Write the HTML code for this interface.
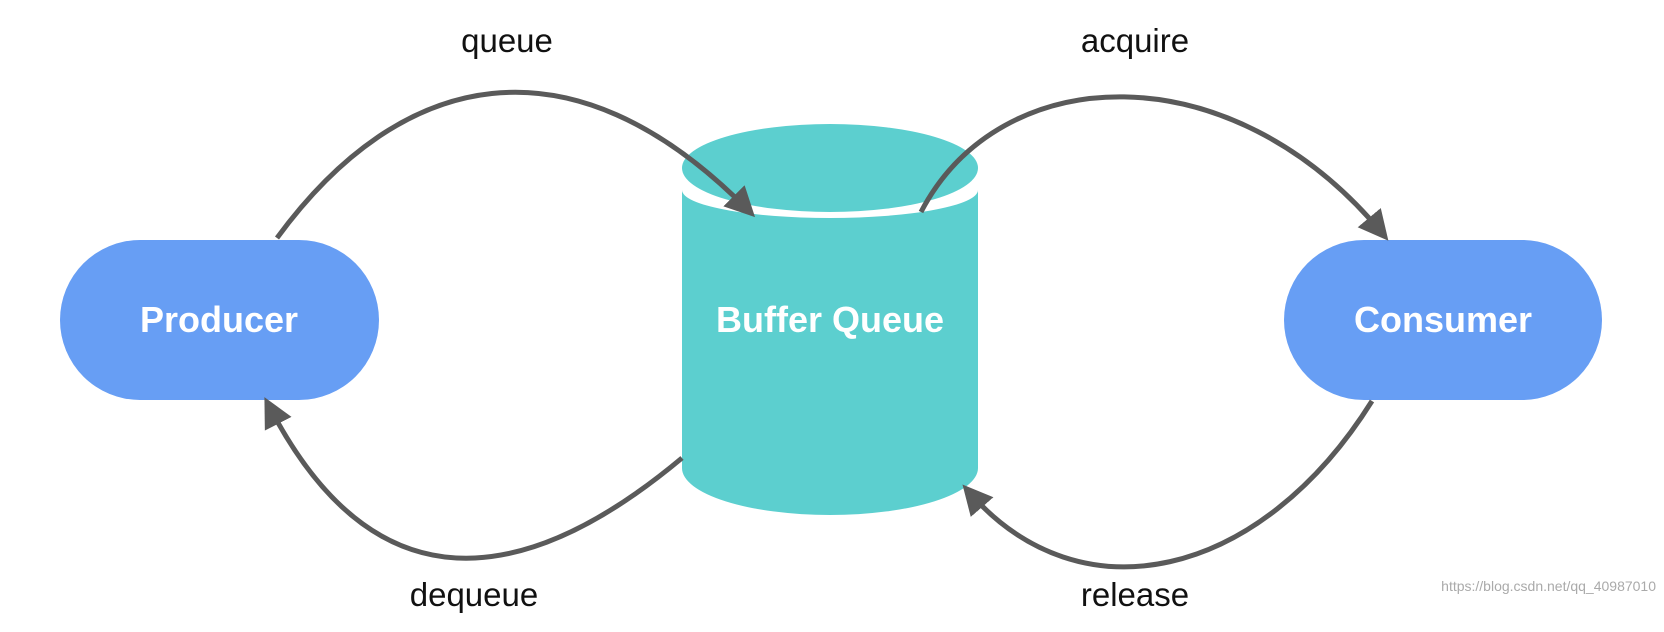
<!DOCTYPE html>
<html><head><style>
html,body{margin:0;padding:0;background:#fff;}
svg{display:block;}
</style></head><body>
<svg width="1664" height="632" viewBox="0 0 1664 632" xmlns="http://www.w3.org/2000/svg">
<defs>
<marker id="ah" markerWidth="6" markerHeight="6" refX="4" refY="3" orient="auto" markerUnits="strokeWidth">
<path d="M0,0 L6,3 L0,6 Z" fill="#5a5a5a"/>
</marker>
</defs>
<path d="M682,190 A148,28 0 0 0 978,190 L978,468 A148,47 0 0 1 682,468 Z" fill="#5ccfcf"/>
<ellipse cx="830" cy="168" rx="148" ry="44" fill="#5ccfcf"/>
<rect x="60" y="240" width="319" height="160" rx="80" fill="#679ef4"/>
<rect x="1284" y="240" width="318" height="160" rx="80" fill="#679ef4"/>
<g fill="none" stroke="#5a5a5a" stroke-width="5">
<path d="M277,238 C400,70 570,30 748,210" marker-end="url(#ah)"/>
<path d="M921,212 C1000,60 1230,50 1382,233" marker-end="url(#ah)"/>
<path d="M682,458 C560,560 390,640 269,406" marker-end="url(#ah)"/>
<path d="M1372,401 C1260,580 1080,620 969,492" marker-end="url(#ah)"/>
</g>
<g font-family="Liberation Sans, sans-serif" fill="#fff" font-weight="bold" font-size="36" text-anchor="middle">
<text x="219" y="332">Producer</text>
<text x="830" y="332">Buffer Queue</text>
<text x="1443" y="332">Consumer</text>
</g>
<g font-family="Liberation Sans, sans-serif" fill="#111" font-size="33" text-anchor="middle">
<text x="507" y="52">queue</text>
<text x="1135" y="52">acquire</text>
<text x="474" y="606">dequeue</text>
<text x="1135" y="606">release</text>
</g>
<text x="1656" y="591" font-family="Liberation Sans, sans-serif" font-size="14" fill="#aaa" text-anchor="end">https://blog.csdn.net/qq_40987010</text>
</svg>
</body></html>
